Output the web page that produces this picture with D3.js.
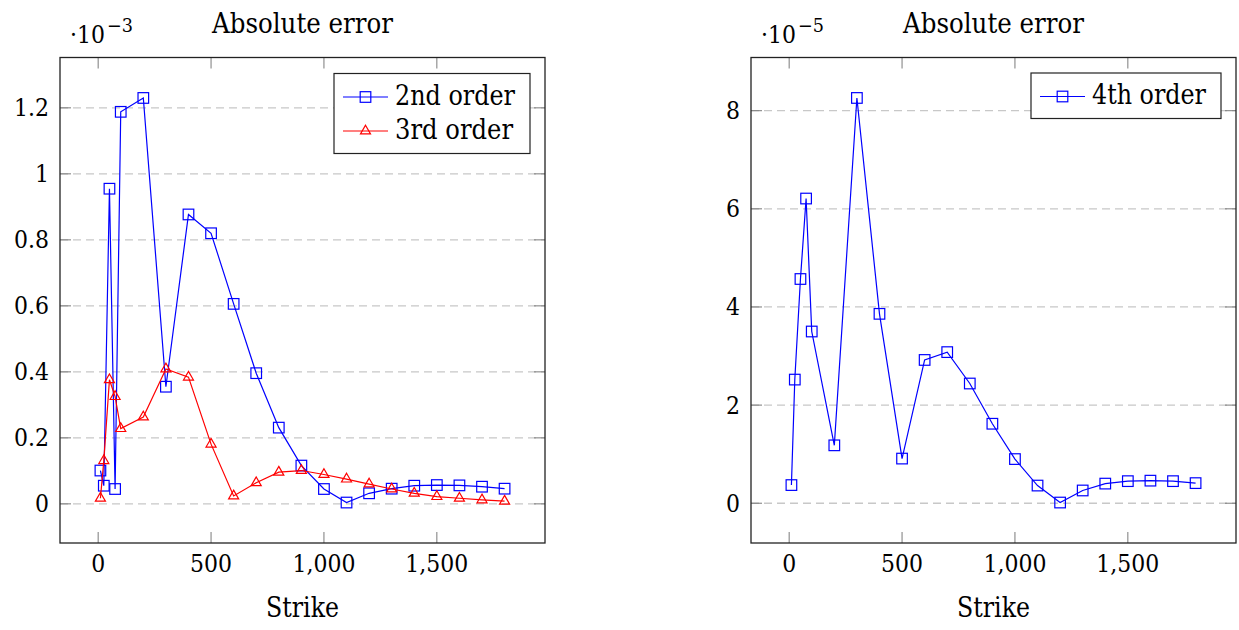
<!DOCTYPE html>
<html>
<head>
<meta charset="utf-8">
<script src="https://cdn.jsdelivr.net/npm/d3@7"></script>
<style>
  html, body { margin: 0; padding: 0; background: #fff; }
  svg { display: block; }
  text { font-family: "DejaVu Serif", serif; fill: #000; }
</style>
</head>
<body>
<svg id="chart" width="1239" height="630"></svg>
<script>
// Strike values shared by every series
const strikes = [10, 25, 50, 75, 100, 200, 300, 400, 500, 600, 700, 800, 900,
                 1000, 1100, 1200, 1300, 1400, 1500, 1600, 1700, 1800];

// Left panel (values in units of 1e-3)
const secondOrder = [0.101, 0.055, 0.955, 0.045, 1.188, 1.230, 0.355, 0.877, 0.820, 0.606,
                     0.396, 0.231, 0.116, 0.045, 0.004, 0.032, 0.046, 0.055, 0.057, 0.056,
                     0.052, 0.046];
const thirdOrder = [0.017, 0.131, 0.376, 0.325, 0.228, 0.263, 0.409, 0.384, 0.181, 0.024,
                    0.064, 0.096, 0.101, 0.089, 0.075, 0.060, 0.045, 0.032, 0.022, 0.017,
                    0.012, 0.008];

// Right panel (values in units of 1e-5)
const fourthOrder = [0.37, 2.52, 4.57, 6.21, 3.50, 1.18, 8.26, 3.86, 0.91, 2.92,
                     3.08, 2.44, 1.62, 0.90, 0.36, 0.014, 0.26, 0.40, 0.45, 0.46,
                     0.45, 0.41];

const xTicks = [0, 500, 1000, 1500];
const leftYTicks = [0, 0.2, 0.4, 0.6, 0.8, 1, 1.2];
const rightYTicks = [0, 2, 4, 6, 8];

const svg = d3.select("#chart");
const tickSize = 25;
const wordSize = 27;
const squeeze = 0.88;   // narrower set width for the wide serif face

function enlarge(ext) {
  const pad = (ext[1] - ext[0]) * 0.1;
  return [ext[0] - pad, ext[1] + pad];
}

// text helper: width gives an explicit run length, otherwise the natural
// advance is squeezed horizontally
function label(sel, str, x, y, anchor, size, width) {
  const t = sel.append("text").attr("x", x).attr("y", y)
    .attr("text-anchor", anchor).attr("font-size", size).text(str);
  const w = width || t.node().getComputedTextLength() * squeeze;
  t.attr("textLength", w).attr("lengthAdjust", "spacingAndGlyphs");
  return t;
}

function panel(opts) {
  const { left, right, top, bottom, series, yTicks, exponent, legend } = opts;
  const g = svg.append("g");

  const x = d3.scaleLinear().domain(enlarge(d3.extent(strikes))).range([left, right]);
  const allY = series.flatMap(s => s.values);
  const y = d3.scaleLinear().domain(enlarge(d3.extent(allY))).range([bottom, top]);

  // horizontal dashed grid
  g.append("g").selectAll("line").data(yTicks).join("line")
    .attr("x1", left).attr("x2", right)
    .attr("y1", d => y(d)).attr("y2", d => y(d))
    .attr("stroke", "#c8c8c8").attr("stroke-width", 1.3)
    .attr("stroke-dasharray", "8,5");

  const tickLen = 11;
  // ticks on all four sides, pointing inward
  const tg = g.append("g").attr("stroke", "#7a7a7a").attr("stroke-width", 1);
  xTicks.forEach(t => {
    tg.append("line").attr("x1", x(t)).attr("x2", x(t)).attr("y1", bottom).attr("y2", bottom - tickLen);
    tg.append("line").attr("x1", x(t)).attr("x2", x(t)).attr("y1", top).attr("y2", top + tickLen);
  });
  yTicks.forEach(t => {
    tg.append("line").attr("x1", left).attr("x2", left + tickLen).attr("y1", y(t)).attr("y2", y(t));
    tg.append("line").attr("x1", right).attr("x2", right - tickLen).attr("y1", y(t)).attr("y2", y(t));
  });

  // tick labels
  const fx = d3.format(",");
  xTicks.forEach(t => label(g, fx(t), x(t), 572, "middle", tickSize));
  yTicks.forEach(t => label(g, String(+t.toFixed(1)), left - 11, y(t) + 8.5, "end", tickSize));

  // series
  series.forEach(s => {
    const pts = strikes.map((k, i) => [k, s.values[i]]);
    g.append("path").datum(pts)
      .attr("fill", "none").attr("stroke", s.color).attr("stroke-width", 1.2)
      .attr("d", d3.line().x(d => x(d[0])).y(d => y(d[1])));
    const mg = g.append("g");
    pts.forEach(p => drawMarker(mg, s.marker, x(p[0]), y(p[1]), s.color));
  });

  // frame
  g.append("rect").attr("x", left).attr("y", top)
    .attr("width", right - left).attr("height", bottom - top)
    .attr("fill", "none").attr("stroke", "#222").attr("stroke-width", 1.3);

  // title, exponent, axis label
  const cx = (left + right) / 2;
  label(g, "Absolute error", cx, 33, "middle", wordSize, 181);
  const ex = g.append("g");
  label(ex, "\u00B710", left + 10, 43, "start", tickSize, 35);
  label(ex, "\u2212" + exponent, left + 47, 31.5, "start", tickSize * 0.74, 26);
  label(g, "Strike", cx, 617, "middle", wordSize, 73);

  // legend
  const lg = g.append("g");
  lg.append("rect").attr("x", legend.x).attr("y", legend.y)
    .attr("width", legend.w).attr("height", legend.h)
    .attr("fill", "#fff").attr("stroke", "#222").attr("stroke-width", 1.2);
  series.forEach((s, i) => {
    const cy = legend.y + 23.5 + i * 34;
    lg.append("line").attr("x1", legend.x + 9).attr("x2", legend.x + 54)
      .attr("y1", cy).attr("y2", cy).attr("stroke", s.color).attr("stroke-width", 1.2);
    drawMarker(lg, s.marker, legend.x + 31.5, cy, s.color);
    label(lg, s.name, legend.x + 61, cy + 7.5, "start", wordSize, s.width);
  });
}

function drawMarker(sel, type, cx, cy, color) {
  if (type === "square") {
    const h = 5.3;
    sel.append("rect").attr("x", cx - h).attr("y", cy - h)
      .attr("width", 2 * h).attr("height", 2 * h)
      .attr("fill", "none").attr("stroke", color).attr("stroke-width", 1.2);
  } else {
    const r = 5.8;
    const p = [[cx, cy - r], [cx + r * 0.866, cy + r * 0.5], [cx - r * 0.866, cy + r * 0.5]];
    sel.append("path").attr("d", "M" + p.map(q => q.join(",")).join("L") + "Z")
      .attr("fill", "none").attr("stroke", color).attr("stroke-width", 1.2);
  }
}

panel({
  left: 60, right: 545, top: 57.5, bottom: 543,
  series: [
    { name: "2nd order", values: secondOrder, color: "#0000ff", marker: "square", width: 120 },
    { name: "3rd order", values: thirdOrder, color: "#ff0000", marker: "triangle", width: 118 }
  ],
  yTicks: leftYTicks, exponent: "3",
  legend: { x: 334, y: 73.5, w: 196, h: 80 }
});

panel({
  left: 751, right: 1236, top: 57.5, bottom: 543,
  series: [
    { name: "4th order", values: fourthOrder, color: "#0000ff", marker: "square", width: 114 }
  ],
  yTicks: rightYTicks, exponent: "5",
  legend: { x: 1031, y: 73, w: 190, h: 45.5 }
});
</script>
</body>
</html>
